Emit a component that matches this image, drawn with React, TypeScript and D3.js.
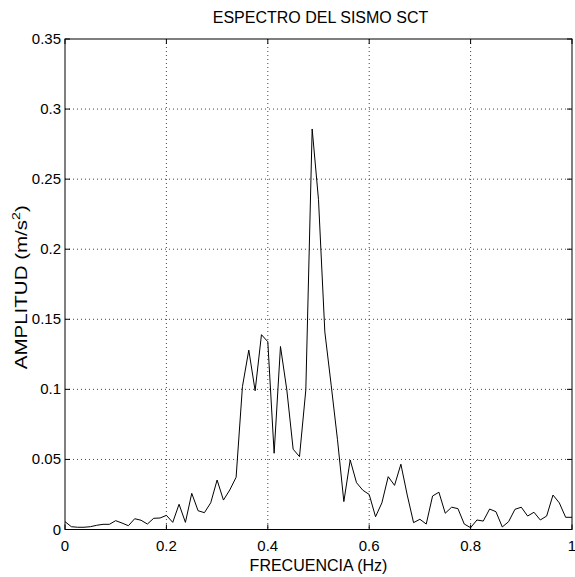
import React, { useRef, useEffect } from 'react'
import * as d3 from 'd3'

// frequency axis (Hz)
const freqs = [
  0, 0.0125, 0.025, 0.0375, 0.05, 0.0625, 0.075, 0.0875, 0.1, 0.1125,
  0.125, 0.1375, 0.15, 0.1625, 0.175, 0.1875, 0.2, 0.2125, 0.225, 0.2375,
  0.25, 0.2625, 0.275, 0.2875, 0.3, 0.3125, 0.325, 0.3375, 0.35, 0.3625,
  0.375, 0.3875, 0.4, 0.4125, 0.425, 0.4375, 0.45, 0.4625, 0.475, 0.4875,
  0.5, 0.5125, 0.525, 0.5375, 0.55, 0.5625, 0.575, 0.5875, 0.6, 0.6125,
  0.625, 0.6375, 0.65, 0.6625, 0.675, 0.6875, 0.7, 0.7125, 0.725, 0.7375,
  0.75, 0.7625, 0.775, 0.7875, 0.8, 0.8125, 0.825, 0.8375, 0.85, 0.8625,
  0.875, 0.8875, 0.9, 0.9125, 0.925, 0.9375, 0.95, 0.9625, 0.975, 0.9875, 1
]

// amplitude (m/s^2)
const amps = [
  0.0056, 0.002, 0.0016, 0.0016, 0.002, 0.003, 0.0037, 0.0037, 0.0063, 0.0046,
  0.0027, 0.0077, 0.0066, 0.0039, 0.008, 0.0082, 0.0101, 0.0051, 0.018, 0.0051,
  0.0258, 0.0134, 0.012, 0.0191, 0.0353, 0.021, 0.0282, 0.0373, 0.102, 0.128,
  0.099, 0.139, 0.134, 0.0544, 0.1306, 0.0996, 0.0573, 0.052, 0.0996, 0.2858,
  0.2353, 0.141, 0.103, 0.064, 0.0199, 0.0496, 0.0334, 0.028, 0.025, 0.0091,
  0.019, 0.0377, 0.0315, 0.0466, 0.0246, 0.0049, 0.0073, 0.0039, 0.0239, 0.0266,
  0.0116, 0.0159, 0.0149, 0.0039, 0.0013, 0.0068, 0.006, 0.0146, 0.0127, 0.0018,
  0.0056, 0.0144, 0.0159, 0.0096, 0.0123, 0.0068, 0.0096, 0.0246, 0.019, 0.0087,
  0.0087
]

const xTicks = [0, 0.2, 0.4, 0.6, 0.8, 1]
const xTickLabels = ['0', '0.2', '0.4', '0.6', '0.8', '1']
const yTicks = [0, 0.05, 0.1, 0.15, 0.2, 0.25, 0.3, 0.35]
const yTickLabels = ['0', '0.05', '0.1', '0.15', '0.2', '0.25', '0.3', '0.35']

const W = 575
const H = 577
const margin = { top: 39, right: 3, bottom: 47.5, left: 65 }
const FONT = 'Arial, "Liberation Sans", Helvetica, sans-serif'

const App = () => {
  const ref = useRef<SVGSVGElement | null>(null)

  useEffect(() => {
    const svg = d3.select(ref.current)
    const iw = W - margin.left - margin.right
    const ih = H - margin.top - margin.bottom

    const x = d3.scaleLinear().domain([0, 1]).range([0, iw])
    const y = d3.scaleLinear().domain([0, 0.35]).range([ih, 0])

    const g = svg.append('g')
      .attr('transform', `translate(${margin.left},${margin.top})`)

    // dotted grid
    g.selectAll('.vgrid')
      .data(xTicks.slice(1, -1))
      .enter().append('line')
      .attr('x1', d => x(d)).attr('x2', d => x(d))
      .attr('y1', 0).attr('y2', ih)
      .attr('stroke', '#444')
      .attr('stroke-width', 1)
      .attr('stroke-dasharray', '1,3')

    g.selectAll('.hgrid')
      .data(yTicks.slice(1, -1))
      .enter().append('line')
      .attr('x1', 0).attr('x2', iw)
      .attr('y1', d => y(d)).attr('y2', d => y(d))
      .attr('stroke', '#444')
      .attr('stroke-width', 1)
      .attr('stroke-dasharray', '1,3')

    // inward ticks on all four sides (matlab style)
    const tl = 5
    xTicks.forEach(t => {
      g.append('line').attr('x1', x(t)).attr('x2', x(t)).attr('y1', ih).attr('y2', ih - tl).attr('stroke', '#000')
      g.append('line').attr('x1', x(t)).attr('x2', x(t)).attr('y1', 0).attr('y2', tl).attr('stroke', '#000')
    })
    yTicks.forEach(t => {
      g.append('line').attr('x1', 0).attr('x2', tl).attr('y1', y(t)).attr('y2', y(t)).attr('stroke', '#000')
      g.append('line').attr('x1', iw).attr('x2', iw - tl).attr('y1', y(t)).attr('y2', y(t)).attr('stroke', '#000')
    })

    // box
    g.append('rect')
      .attr('x', 0).attr('y', 0)
      .attr('width', iw).attr('height', ih)
      .attr('fill', 'none')
      .attr('stroke', '#000')
      .attr('stroke-width', 1)

    // tick labels
    g.selectAll('.xlab')
      .data(xTicks)
      .enter().append('text')
      .attr('x', d => x(d))
      .attr('y', ih + 21)
      .attr('text-anchor', 'middle')
      .attr('font-family', FONT)
      .attr('font-size', 15)
      .text((d, i) => xTickLabels[i])

    g.selectAll('.ylab')
      .data(yTicks)
      .enter().append('text')
      .attr('x', -4)
      .attr('y', d => y(d) + 5)
      .attr('text-anchor', 'end')
      .attr('font-family', FONT)
      .attr('font-size', 15)
      .text((d, i) => yTickLabels[i])

    // the spectrum
    const line = d3.line<number>()
      .x((d, i) => x(freqs[i]))
      .y(d => y(d))

    g.append('path')
      .datum(amps)
      .attr('d', line)
      .attr('fill', 'none')
      .attr('stroke', '#000')
      .attr('stroke-width', 1)

    // titles
    svg.append('text')
      .attr('x', margin.left + iw / 2 + 2)
      .attr('y', 23)
      .attr('text-anchor', 'middle')
      .attr('font-family', FONT)
      .attr('font-size', 16)
      .text('ESPECTRO DEL SISMO SCT')

    svg.append('text')
      .attr('x', margin.left + iw / 2)
      .attr('y', H - 6)
      .attr('text-anchor', 'middle')
      .attr('font-family', FONT)
      .attr('font-size', 16)
      .text('FRECUENCIA (Hz)')

    // y label is stretched along its length in the original
    const yl = svg.append('text')
      .attr('transform', `translate(27,${margin.top + ih / 2 + 3}) rotate(-90)`)
      .attr('text-anchor', 'middle')
      .attr('font-family', FONT)
      .attr('font-size', 16)
      .attr('textLength', 164)
      .attr('lengthAdjust', 'spacingAndGlyphs')
    yl.append('tspan').text('AMPLITUD (m/s')
    yl.append('tspan').attr('font-size', 11).attr('dy', -7).text('2')
    yl.append('tspan').attr('dy', 7).text(')')

    return () => {
      svg.selectAll('*').remove()
    }
  }, [])

  return (
    <svg
      ref={ref}
      width={W}
      height={H}
      style={{ position: 'absolute', left: 0, top: 0, background: '#fff' }}
    />
  )
}

export default App
